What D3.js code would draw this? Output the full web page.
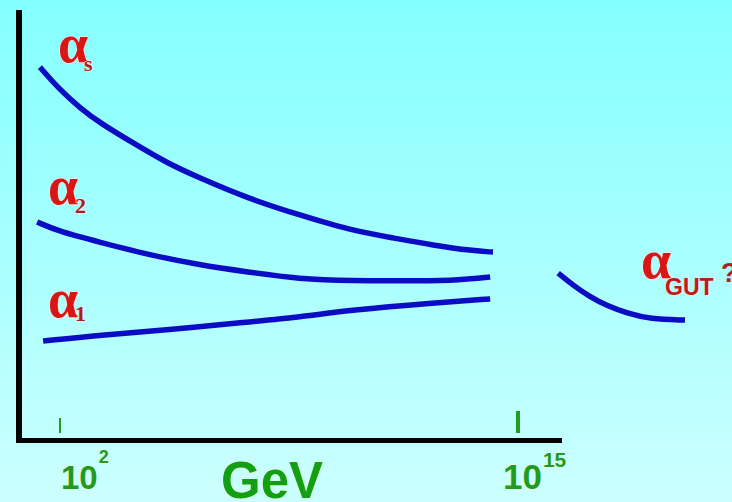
<!DOCTYPE html>
<html><head><meta charset="utf-8">
<script src="https://cdn.jsdelivr.net/npm/d3@7"></script>
<style>html,body{margin:0;padding:0;overflow:hidden;} svg{display:block}</style>
</head><body>
<svg id="c" width="732" height="502"></svg>
<script>
// energy in log10(GeV), couplings in arbitrary units
const alphaSLogE = [1.43, 2.0, 2.57, 3.14, 4.07, 5.04, 5.89, 7.39, 8.81, 10.23, 11.45, 12.59, 13.72, 14.29];
const alphaSVal  = [86.7, 81.4, 77.2, 73.7, 69.1, 64.4, 61.2, 56.0, 52.3, 48.8, 47.0, 45.3, 44.0, 43.7];
const alpha2LogE = [1.35, 2.0, 3.14, 4.55, 5.97, 7.31, 8.81, 10.23, 12.22, 13.35, 14.21];
const alpha2Val  = [50.7, 48.4, 46.0, 43.0, 40.7, 39.1, 37.4, 37.0, 37.0, 37.2, 37.9];
const alpha1LogE = [1.52, 3.14, 5.04, 7.31, 8.81, 10.23, 12.59, 14.21];
const alpha1Val  = [23.0, 24.4, 25.6, 27.4, 28.6, 30.2, 31.9, 32.8];
const alphaGutLogE = [16.14, 16.56, 17.04, 17.53, 18.09, 18.75, 19.74];
const alphaGutVal  = [38.8, 36.0, 33.3, 31.2, 29.5, 28.1, 27.9];
const tickValues = [2, 15];
const tickBase = ["10", "10"];
const tickExp = ["2", "15"];
const axisTitle = "GeV";
const seriesSub = ["s", "2", "1", "GUT"];

const svg = d3.select("#c");
const defs = svg.append("defs");
const grad = defs.append("linearGradient").attr("id", "bg").attr("x1", 0).attr("y1", 0).attr("x2", 0).attr("y2", 1);
grad.append("stop").attr("offset", "0%").attr("stop-color", "#84ffff");
grad.append("stop").attr("offset", "100%").attr("stop-color", "#ccffff");
svg.append("rect").attr("width", 732).attr("height", 502).attr("fill", "url(#bg)");

const x = d3.scaleLinear().domain([2, 15]).range([60, 518]);
const y = d3.scaleLinear().domain([0, 100]).range([440, 10]);

// axes frame
svg.append("line").attr("x1", 19).attr("x2", 19).attr("y1", 10).attr("y2", 443)
  .attr("stroke", "#000").attr("stroke-width", 6);
svg.append("line").attr("x1", 16).attr("x2", 562).attr("y1", 440.5).attr("y2", 440.5)
  .attr("stroke", "#000").attr("stroke-width", 5);

// ticks
const tickW = [2, 4], tickTop = [418, 411];
tickValues.forEach((v, i) => {
  svg.append("line").attr("x1", x(v)).attr("x2", x(v)).attr("y1", tickTop[i]).attr("y2", 433)
    .attr("stroke", "#1f9e1f").attr("stroke-width", tickW[i]);
});
const labDx = [1, -15], baseSize = [33, 35], expSize = [18, 21], expDy = [-26, -22];
tickValues.forEach((v, i) => {
  const t = svg.append("text").attr("x", x(v) + labDx[i]).attr("y", 489)
    .attr("font-family", "Liberation Sans, Arial, sans-serif").attr("font-weight", "bold")
    .attr("fill", "#229a22").attr("stroke", "#e8ffe0").attr("stroke-width", 1.2).attr("paint-order", "stroke");
  t.append("tspan").attr("font-size", baseSize[i]).text(tickBase[i]);
  t.append("tspan").attr("font-size", expSize[i]).attr("dy", expDy[i]).attr("dx", 1).text(tickExp[i]);
});
svg.append("text").attr("x", 272).attr("y", 498).attr("text-anchor", "middle")
  .attr("font-family", "Liberation Sans, Arial, sans-serif").attr("font-weight", "bold").attr("font-size", 51)
  .attr("fill", "#12a012").attr("stroke", "#e8ffe0").attr("stroke-width", 1.2).attr("paint-order", "stroke")
  .text(axisTitle);

// curves
const line = d3.line().x(d => x(d[0])).y(d => y(d[1])).curve(d3.curveBasis);
const series = [
  [alphaSLogE, alphaSVal],
  [alpha2LogE, alpha2Val],
  [alpha1LogE, alpha1Val],
  [alphaGutLogE, alphaGutVal]
];
series.forEach(([xs, vs]) => {
  svg.append("path").attr("d", line(xs.map((e, i) => [e, vs[i]])))
    .attr("fill", "none").attr("stroke", "#0c0cc4").attr("stroke-width", 5.5);
});

// labels
const labelPos = [[58, 62], [48, 204], [48, 317], [641, 278]];
const subPos = [[84, 71], [75, 213], [75, 321], [665, 295]];
labelPos.forEach((p, i) => {
  svg.append("text").attr("x", p[0]).attr("y", p[1])
    .attr("font-family", "Liberation Serif, Times New Roman, serif").attr("font-weight", "bold")
    .attr("font-size", 54).attr("fill", "#d81616")
    .attr("stroke", "#ffe4e4").attr("stroke-width", 1.2).attr("paint-order", "stroke")
    .text("α");
  const s = svg.append("text").attr("x", subPos[i][0]).attr("y", subPos[i][1])
    .attr("fill", i === 3 ? "#c41818" : "#b01c1c")
    .attr("stroke", "#ffe4e4").attr("stroke-width", 1).attr("paint-order", "stroke")
    .attr("font-weight", "bold");
  if (i === 3) {
    s.attr("font-family", "Liberation Sans, Arial, sans-serif").attr("font-size", 23).text(seriesSub[i]);
  } else {
    s.attr("font-family", "Liberation Serif, Times New Roman, serif").attr("font-size", 22).text(seriesSub[i]);
  }
});
svg.append("text").attr("x", 721).attr("y", 282)
  .attr("font-family", "Liberation Sans, Arial, sans-serif").attr("font-weight", "bold").attr("font-size", 27)
  .attr("fill", "#b02020").text("?");
</script>
</body></html>
